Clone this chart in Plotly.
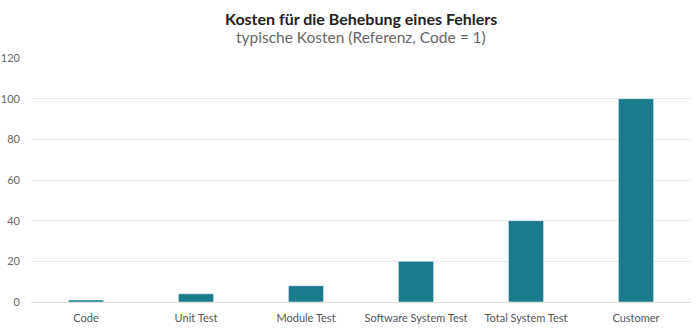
import plotly.graph_objects as go

# Relative cost of fixing a defect by the phase in which it is found
phases = ["Code", "Unit Test", "Module Test", "Software System Test", "Total System Test", "Customer"]
costs = [1, 4, 8, 20, 40, 100]
y_ticks = [0, 20, 40, 60, 80, 100, 120]

bar_color = "#1b7b8c"
font_family = "Lato, Noto Sans, sans-serif"

fig = go.Figure(
    go.Bar(
        x=phases,
        y=costs,
        width=0.32,
        marker=dict(color=bar_color, line=dict(color="#ffffff", width=0.5)),
        hovertemplate="%{x}: %{y}<extra></extra>",
    )
)

fig.update_layout(
    width=700,
    height=328,
    margin=dict(l=31, r=9, t=58, b=26),
    paper_bgcolor="white",
    plot_bgcolor="white",
    font=dict(family=font_family, size=11, color="#666666"),
    showlegend=False,
    annotations=[
        dict(
            text="<b>Kosten für die Behebung eines Fehlers</b>",
            x=0.5, y=1, xref="paper", yref="paper", yanchor="middle",
            yshift=40, showarrow=False,
            font=dict(size=16, color="#222222", family=font_family),
        ),
        dict(
            text="typische Kosten (Referenz, Code = 1)",
            x=0.5, y=1, xref="paper", yref="paper", yanchor="middle",
            yshift=21, showarrow=False,
            font=dict(size=15.5, color="#666666", family=font_family),
        ),
    ],
)

fig.update_xaxes(
    automargin=False,
    showgrid=False,
    showline=False,
    ticks="",
    ticklabelstandoff=8,
    tickfont=dict(size=11, color="#555555"),
)
fig.update_yaxes(
    automargin=False,
    range=[0, 120],
    tickvals=y_ticks,
    showgrid=True,
    gridcolor="#e8e8e8",
    gridwidth=1,
    zeroline=True,
    zerolinecolor="#e0e0e0",
    zerolinewidth=1,
    ticks="",
    ticklabelstandoff=10,
    tickfont=dict(size=11, color="#666666"),
)

fig.write_html("out.html")
